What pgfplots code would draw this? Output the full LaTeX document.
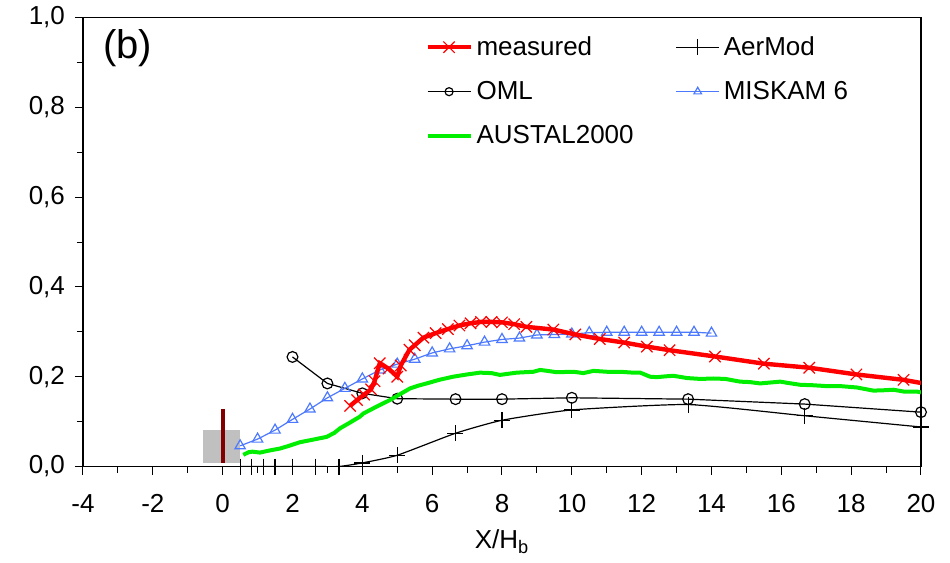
\documentclass[border=0pt]{standalone}
\usepackage{fontspec}
\setmainfont{Liberation Sans}
\usepackage{pgfplots}
\pgfplotsset{compat=1.18}
\definecolor{measred}{RGB}{255,0,0}
\definecolor{austgreen}{RGB}{0,238,0}
\definecolor{miskblue}{RGB}{77,121,255}
\definecolor{bargrey}{RGB}{192,192,192}
\definecolor{bardark}{RGB}{128,0,0}

\pgfplotstableread{
x y
3.65 0.135
3.85 0.148
4.05 0.160
4.25 0.172
4.35 0.190
4.50 0.230
4.75 0.218
5.00 0.200
5.10 0.225
5.35 0.260
5.50 0.270
5.75 0.287
6.10 0.297
6.45 0.306
6.78 0.314
7.10 0.319
7.40 0.322
7.70 0.322
8.00 0.321
8.35 0.317
8.70 0.311
9.47 0.305
10.10 0.294
10.80 0.284
11.50 0.276
12.15 0.267
12.80 0.259
14.10 0.245
15.50 0.229
16.80 0.220
18.15 0.205
19.50 0.193
20.00 0.186
}\measured
\pgfplotstableread{
x y
0.500 0
0.833 0
1.167 0
1.500 0
2.000 0
2.667 0
3.333 0
4.000 0.008
5.000 0.025
6.667 0.074
8.000 0.103
10.00 0.126
13.33 0.138
16.67 0.113
20.00 0.088
}\aermod
\pgfplotstableread{
x y
2.00 0.244
3.00 0.185
4.00 0.163
5.00 0.151
6.67 0.150
8.00 0.150
10.00 0.153
13.33 0.150
16.67 0.139
20.00 0.121
}\oml
\pgfplotstableread{
x y
0.5 0.046
1.0 0.061
1.5 0.081
2.0 0.105
2.5 0.128
3.0 0.153
3.5 0.174
4.0 0.195
4.5 0.215
5.0 0.228
5.5 0.239
6.0 0.253
6.5 0.262
7.0 0.269
7.5 0.277
8.0 0.283
8.5 0.286
9.0 0.293
9.5 0.294
10.0 0.295
10.5 0.298
11.0 0.299
11.5 0.299
12.0 0.299
12.5 0.299
13.0 0.299
13.5 0.299
14.0 0.297
}\miskam
\pgfplotstableread{
x y
0.59 0.026
0.75 0.032
0.85 0.033
1.07 0.031
1.30 0.035
1.64 0.040
1.90 0.046
2.21 0.054
2.60 0.060
2.98 0.066
3.20 0.075
3.36 0.085
3.65 0.098
3.93 0.111
4.03 0.118
4.40 0.133
4.79 0.148
5.10 0.162
5.37 0.174
5.60 0.180
5.84 0.185
6.20 0.193
6.60 0.200
7.00 0.205
7.37 0.209
7.70 0.208
7.94 0.204
8.13 0.206
8.42 0.209
8.90 0.211
9.09 0.215
9.30 0.213
9.57 0.210
10.05 0.211
10.33 0.208
10.62 0.213
11.00 0.211
11.38 0.211
11.76 0.209
11.96 0.209
12.24 0.200
12.43 0.199
12.72 0.201
12.91 0.202
13.30 0.197
13.68 0.195
14.06 0.196
14.40 0.195
14.82 0.189
15.10 0.188
15.39 0.185
15.97 0.189
16.20 0.186
16.54 0.182
16.90 0.181
17.30 0.179
17.70 0.179
18.16 0.176
18.64 0.169
19.00 0.170
19.21 0.171
19.50 0.167
19.88 0.167
20.00 0.165
}\austal

\begin{document}
\begin{tikzpicture}
\begin{axis}[
  scale only axis, width=419pt, height=224.5pt,
  xmin=-4, xmax=20, ymin=0, ymax=1,
  xtick={-4,-2,...,20}, minor x tick num=1,
  ytick={0,0.2,0.4,0.6,0.8,1.0}, minor y tick num=1,
  tick align=outside, xtick pos=bottom, ytick pos=left,
  major tick length=4pt, minor tick length=3pt,
  tick style={black, line width=0.5pt},
  axis line style={line width=0.6pt},
  /pgf/number format/assume math mode=true,
  y tick label style={xshift=-1.5pt, /pgf/number format/fixed, /pgf/number format/fixed zerofill,
    /pgf/number format/precision=1, /pgf/number format/use comma},
  x tick label style={yshift=-6.5pt},
  tick label style={font=\fontsize{13}{15}\selectfont},
  xlabel={X/H\textsubscript{b}},
  xlabel style={yshift=-1.5pt},
  label style={font=\fontsize{13}{15}\selectfont},
  clip mode=individual,
  legend columns=2,
  legend cell align=left,
  legend style={at={(axis cs:5.8,0.968)}, anchor=north west, draw=none, fill=none,
    inner sep=0pt, row sep=7.5pt, font=\fontsize{13}{15}\selectfont,
    /tikz/every even column/.append style={column sep=19pt}},
  legend image code/.code={\draw[mark repeat=2,mark phase=2]
    plot coordinates {(0pt,0pt)(10.75pt,0pt)(21.5pt,0pt)};},
]
  \addlegendimage{measred, line width=2pt, mark=x, mark size=4pt, mark options={line width=0.6pt}}
  \addlegendentry{measured}
  \addlegendimage{black, line width=0.6pt, mark=+, mark size=4pt}
  \addlegendentry{AerMod}
  \addlegendimage{black, line width=0.6pt, mark=o, mark size=2pt}
  \addlegendentry{OML}
  \addlegendimage{miskblue, line width=0.6pt, mark=triangle, mark size=2.2pt}
  \addlegendentry{MISKAM 6}
  \addlegendimage{austgreen, line width=2pt}
  \addlegendentry{AUSTAL2000}

  % building and source
  \addplot[fill=bargrey, draw=none, forget plot] coordinates
    {(-0.57,0.008) (0.5,0.008) (0.5,0.082) (-0.57,0.082)} -- cycle;
  \addplot[bardark, line width=2pt, forget plot] coordinates {(0,0.008) (0,0.128)};

  \addplot[black, line width=0.6pt, smooth, tension=0.3, mark=+, mark size=4pt, forget plot] table {\aermod};
  \addplot[black, line width=0.6pt, mark=o, mark size=2.7pt, forget plot] table {\oml};
  \addplot[austgreen, line width=2pt, forget plot] table {\austal};
  \addplot[miskblue, line width=0.6pt, mark=triangle, mark size=3pt, forget plot] table {\miskam};
  \addplot[measred, line width=2.2pt, forget plot] table {\measured};
  \addplot[measred, only marks, mark=x, mark size=4pt, mark options={line width=0.6pt}, forget plot]
    table[skip coords between index={32}{33}] {\measured};

  \node[anchor=west, font=\fontsize{20}{24}\selectfont] at (axis cs:-3.62,0.932) {(b)};
\end{axis}
\pgfresetboundingbox
\path[use as bounding box] (-41.5pt,-48.25pt) rectangle (433.5pt,233.25pt);
\end{tikzpicture}
\end{document}
